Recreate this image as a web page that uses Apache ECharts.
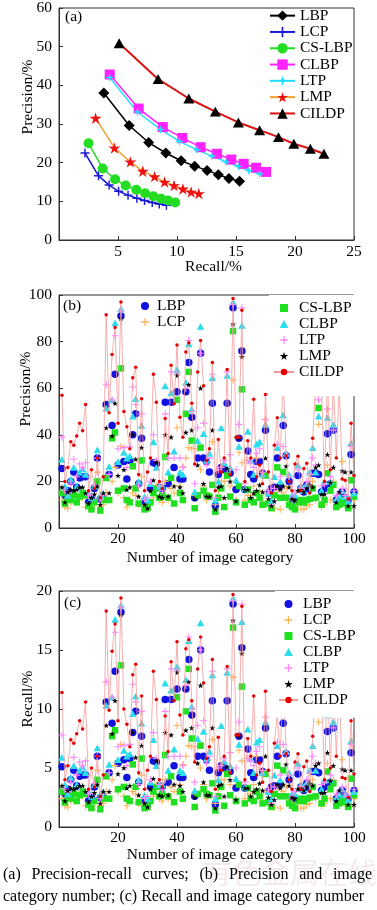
<!DOCTYPE html>
<html>
<head>
<meta charset="utf-8">
<script src="https://cdn.jsdelivr.net/npm/echarts@6/dist/echarts.min.js"></script>
<style>
  html, body { margin: 0; padding: 0; background: #fff; }
  #Charts { width: 377px; height: 910px; }
</style>
</head>
<body>
<div id="Charts"></div>
<script>
// ---- (a) precision-recall curves ----
const prLBP_recall = [3.8, 5.95, 7.6, 9.05, 10.35, 11.5, 12.55, 13.5, 14.4, 15.3]
const prLBP_precision = [38, 29.6, 25.2, 22.5, 20.5, 19.1, 18, 16.9, 15.9, 15.2]
const prLCP_recall = [2.2, 3.35, 4.25, 5.05, 5.85, 6.6, 7.25, 7.9, 8.5, 9.1]
const prLCP_precision = [22.5, 16.6, 14.2, 12.6, 11.6, 10.8, 10.2, 9.7, 9.3, 9.0]
const prCSLBP_recall = [2.5, 3.7, 4.75, 5.65, 6.55, 7.3, 8.0, 8.65, 9.25, 9.85]
const prCSLBP_precision = [25, 18.5, 15.7, 14.1, 13.0, 12.1, 11.3, 10.7, 10.2, 9.7]
const prCLBP_recall = [4.3, 6.75, 8.8, 10.45, 12.0, 13.4, 14.6, 15.65, 16.7, 17.55]
const prCLBP_precision = [42.8, 34, 29.2, 26.4, 24.0, 22.3, 20.8, 19.7, 18.7, 17.6]
const prLTP_recall = [4.3, 6.65, 8.6, 10.2, 11.7, 12.95, 14.15, 15.2, 16.1, 17.0]
const prLTP_precision = [42, 33.1, 28.6, 25.5, 23.3, 21.7, 20.2, 19, 17.9, 17.1]
const prLMP_recall = [3.1, 4.7, 6.05, 7.1, 8.1, 8.95, 9.75, 10.5, 11.2, 11.85]
const prLMP_precision = [31.5, 23.8, 20.2, 17.8, 16.4, 15, 14.1, 13.2, 12.4, 12]
const prCILDP_recall = [5.1, 8.4, 11.0, 13.25, 15.2, 17.0, 18.6, 19.9, 21.3, 22.45]
const prCILDP_precision = [50.9, 41.6, 36.6, 33.2, 30.4, 28.4, 26.6, 24.9, 23.6, 22.3]

// ---- (b) precision per image category (1..100) ----
const imageCategory = Array.from({length: 100}, (_, i) => i + 1)
const precLBP = [25.5, 14, 16, 20, 24, 17.5, 21.5, 22, 22, 11, 12.5, 17, 30, 12.5, 12.5, 53, 23, 44, 66, 27,
  91, 28.5, 21, 29, 40, 49, 19, 38.5, 11.5, 10, 17, 28, 27.5, 17.5, 17, 54, 19, 54, 26, 58.5,
  21, 21, 58.5, 71, 47.5, 13, 30, 75, 30, 28.5, 24, 53.5, 9.5, 23, 26, 25, 53.5, 23.5, 94.5, 16.5,
  38.5, 76, 16.5, 33, 23, 21, 28.5, 28.5, 23.5, 42, 15, 17, 17.5, 30, 18, 44, 31, 20, 12.5, 12,
  22.5, 17, 15.5, 18.5, 17, 23.5, 23.5, 23, 15.5, 17, 40.5, 19, 42, 12, 13, 15.5, 13, 12, 31.5, 15.5]
const precLCP = [12, 9, 8.5, 11, 12, 11, 13, 13, 9, 9, 8, 10, 24, 9, 10, 15, 12, 20, 26, 15,
  35, 13, 9, 12, 15, 14, 10, 22, 10, 8, 11, 13, 18, 12, 11, 20, 12, 17, 15, 43,
  18, 26.5, 30, 34.5, 34, 14, 34, 25, 18, 12, 14, 37, 10, 16, 20, 20, 23, 18, 63.5, 12,
  32.5, 28, 12, 14, 14, 18, 30, 16, 11, 15, 10, 9, 8.5, 16, 8, 15, 17, 12, 10, 9,
  10, 8, 8, 9.5, 10, 20, 12, 44.5, 9, 10, 27, 12, 20, 10, 11, 28.5, 10, 10, 9, 12]
const precCSLBP = [15, 10.5, 13, 12, 14, 11, 13.5, 15, 14, 9.5, 8, 11, 20, 7.5, 12, 21.5, 12, 38.5, 41, 16,
  68.5, 17, 12, 11, 26.5, 17, 10.5, 29, 8, 8.5, 11, 15, 17, 13, 14, 30.5, 13, 21.5, 10.5, 55,
  15, 12, 49, 67, 37.5, 8.5, 14, 34.5, 16, 14, 13.5, 18.5, 7, 13, 17, 9, 22.5, 13.5, 84.5, 11,
  18, 59.5, 10, 16.5, 12, 11, 15, 13, 10, 22.5, 10.5, 8.5, 14, 26, 13, 24, 13, 10, 9, 8,
  11, 12, 11, 12, 12.5, 17, 13, 51.5, 10, 12, 23.5, 16, 18.5, 9, 10, 12, 10.5, 8.5, 20.5, 13.5]
const precCLBP = [29.5, 18, 14, 21, 26, 18, 24, 25.5, 23, 15, 13, 18, 33.5, 14, 15, 51.5, 26.5, 55, 88, 28.5,
  94, 32.5, 30, 31, 48, 55.5, 20, 44, 13.5, 12, 19, 37, 26, 18, 18, 61, 24, 58, 33, 68,
  24, 23, 62.5, 79, 51, 15.5, 37.5, 86.5, 40.5, 29, 32, 64.5, 12, 20, 43, 28, 65.5, 26, 97, 20.5,
  35, 87, 17, 41.5, 29, 23, 36, 37, 23, 44.5, 15, 12, 22, 34.5, 20, 48.5, 32, 23, 14, 14,
  27, 18, 16, 19, 24, 34.5, 24, 48, 16, 20, 47.5, 20, 44.5, 12.5, 14, 16, 13.5, 11.5, 36.5, 15]
const precLTP = [39, 16, 15, 19, 29.5, 22, 27.5, 26, 28, 14, 14, 18.5, 30, 12, 14, 61.5, 23, 55, 82.5, 34,
  93, 34.5, 26, 35, 60.5, 53, 18, 49, 12, 13, 20, 40, 29, 18, 16, 49, 30, 67, 30, 66,
  30, 26, 60, 80.5, 50, 19, 43, 75, 45, 27, 30, 66, 13, 25, 26, 29, 67, 31.5, 96, 25,
  44.5, 94.5, 19, 29, 28, 26, 32, 34, 24, 46.5, 16, 10, 17, 36, 22, 35, 31, 22, 13, 15,
  25, 17, 17, 20, 23, 30, 27, 55, 18, 19, 51, 22, 42, 14, 15, 17, 14, 13, 35, 16]
const precLMP = [17.5, 11, 15.5, 16.5, 16, 16.5, 17.5, 17.5, 15, 10.5, 13, 14.5, 18, 10, 15, 43, 15, 39.5, 53.5, 22.5,
  90, 25, 16.5, 17.5, 40, 29.5, 13.5, 34.5, 10, 8.5, 16, 20.5, 28, 13.5, 13, 40, 13.5, 39, 18, 65.5,
  17.5, 15, 41, 61.5, 42, 12.5, 27, 60, 19, 13.5, 13.5, 42, 8, 17.5, 18, 13, 25.5, 20, 87.5, 11.5,
  38.5, 73.5, 16.5, 16.5, 13, 15, 16, 18.5, 15.5, 30, 12.5, 9.5, 11.5, 18, 16.5, 18, 26.5, 17.5, 12.5, 12,
  16, 16.5, 15.5, 17, 18.5, 17.5, 26, 27, 14.5, 14.5, 31.5, 19.5, 26, 11, 15.5, 24.5, 24, 9.5, 24, 9.5]
const precCILDP = [57, 20, 26, 37, 35.5, 39.5, 45, 41.7, 53, 16, 25, 17, 30, 13, 22, 91.5, 49.5, 74.5, 86, 45,
  97, 50, 43.5, 34, 64.5, 69, 23, 55.5, 16, 24, 30, 66, 54, 20, 17, 47, 32, 69.8, 53.3, 78.5,
  47.5, 39, 75.5, 79.5, 53.5, 27.5, 67, 80.5, 61, 29, 34, 71, 16, 38, 24, 30, 68, 23, 98.5, 39,
  39, 93.5, 20, 37.5, 30, 55.3, 22, 27, 19, 57.3, 24, 15, 35.5, 47.3, 30, 65, 31, 20, 16, 27.5,
  30.8, 16, 25.5, 27.8, 15, 38.5, 62, 65, 60, 20, 65, 25, 64, 30, 62, 21, 20.5, 12.5, 45, 22.5]

// ---- (c) recall per image category (1..100) ----
const recLBP = [5.1, 2.8, 3.2, 4, 4.8, 3.5, 4.3, 4.4, 4.4, 2.2, 2.5, 3.4, 6, 2.5, 2.5, 10.6, 4.6, 8.8, 13.2, 5.4,
  18.2, 5.7, 4.2, 5.8, 8, 9.8, 3.8, 7.7, 2.3, 2, 3.4, 5.6, 5.5, 3.5, 3.4, 10.8, 3.8, 10.8, 5.2, 11.7,
  4.2, 4.2, 11.7, 14.2, 9.5, 2.6, 6, 15, 6, 5.7, 4.8, 10.7, 1.9, 4.6, 5.2, 5, 10.7, 4.7, 18.9, 3.3,
  7.7, 15.2, 3.3, 6.6, 4.6, 4.2, 5.7, 5.7, 4.7, 8.4, 3, 3.4, 3.5, 6, 3.6, 8.8, 6.2, 4, 2.5, 2.4,
  4.5, 3.4, 3.1, 3.7, 3.4, 4.7, 4.7, 4.6, 3.1, 3.4, 8.1, 3.8, 8.4, 2.4, 2.6, 3.1, 2.6, 2.4, 6.3, 3.1]
const recLCP = [2.4, 1.8, 1.7, 2.2, 2.4, 2.2, 2.6, 2.6, 1.8, 1.8, 1.6, 2, 4.8, 1.8, 2, 3, 2.4, 4, 5.2, 3,
  7, 2.6, 1.8, 2.4, 3, 2.8, 2, 4.4, 2, 1.6, 2.2, 2.6, 3.6, 2.4, 2.2, 4, 2.4, 3.4, 3, 8.6,
  3.6, 5.3, 6, 6.9, 6.8, 2.8, 6.8, 5, 3.6, 2.4, 2.8, 7.4, 2, 3.2, 4, 4, 4.6, 3.6, 12.7, 2.4,
  6.5, 5.6, 2.4, 2.8, 2.8, 3.6, 6, 3.2, 2.2, 3, 2, 1.8, 1.7, 3.2, 1.6, 3, 3.4, 2.4, 2, 1.8,
  2, 1.6, 1.6, 1.9, 2, 4, 2.4, 8.9, 1.8, 2, 5.4, 2.4, 4, 2, 2.2, 5.7, 2, 2, 1.8, 2.4]
const recCSLBP = [3, 2.1, 2.6, 2.4, 2.8, 2.2, 2.7, 3, 2.8, 1.9, 1.6, 2.2, 4, 1.5, 2.4, 4.3, 2.4, 7.7, 8.2, 3.2,
  13.7, 3.4, 2.4, 2.2, 5.3, 3.4, 2.1, 5.8, 1.6, 1.7, 2.2, 3, 3.4, 2.6, 2.8, 6.1, 2.6, 4.3, 2.1, 11,
  3, 2.4, 9.8, 13.4, 7.5, 1.7, 2.8, 6.9, 3.2, 2.8, 2.7, 3.7, 1.4, 2.6, 3.4, 1.8, 4.5, 2.7, 16.9, 2.2,
  3.6, 11.9, 2, 3.3, 2.4, 2.2, 3, 2.6, 2, 4.5, 2.1, 1.7, 2.8, 5.2, 2.6, 4.8, 2.6, 2, 1.8, 1.6,
  2.2, 2.4, 2.2, 2.4, 2.5, 3.4, 2.6, 10.3, 2, 2.4, 4.7, 3.2, 3.7, 1.8, 2, 2.4, 2.1, 1.7, 4.1, 2.7]
const recCLBP = [5.9, 3.6, 2.8, 4.2, 5.2, 3.6, 4.8, 5.1, 4.6, 3, 2.6, 3.6, 6.7, 2.8, 3, 10.3, 5.3, 11, 17.6, 5.7,
  18.8, 6.5, 6, 6.2, 9.6, 11.1, 4, 8.8, 2.7, 2.4, 3.8, 7.4, 5.2, 3.6, 3.6, 12.2, 4.8, 11.6, 6.6, 13.6,
  4.8, 4.6, 12.5, 15.8, 10.2, 3.1, 7.5, 17.3, 8.1, 5.8, 6.4, 12.9, 2.4, 4, 8.6, 5.6, 13.1, 5.2, 19.4, 4.1,
  7, 17.4, 3.4, 8.3, 5.8, 4.6, 7.2, 7.4, 4.6, 8.9, 3, 2.4, 4.4, 6.9, 4, 9.7, 6.4, 4.6, 2.8, 2.8,
  5.4, 3.6, 3.2, 3.8, 4.8, 6.9, 4.8, 9.6, 3.2, 4, 9.5, 4, 8.9, 2.5, 2.8, 3.2, 2.7, 2.3, 7.3, 3]
const recLTP = [7.8, 3.2, 3, 3.8, 5.9, 4.4, 5.5, 5.2, 5.6, 2.8, 2.8, 3.7, 6, 2.4, 2.8, 12.3, 4.6, 11, 16.5, 6.8,
  18.6, 6.9, 5.2, 7, 12.1, 10.6, 3.6, 9.8, 2.4, 2.6, 4, 8, 5.8, 3.6, 3.2, 9.8, 6, 13.4, 6, 13.2,
  6, 5.2, 12, 16.1, 10, 3.8, 8.6, 15, 9, 5.4, 6, 13.2, 2.6, 5, 5.2, 5.8, 13.4, 6.3, 19.2, 5,
  8.9, 18.9, 3.8, 5.8, 5.6, 5.2, 6.4, 6.8, 4.8, 9.3, 3.2, 2, 3.4, 7.2, 4.4, 7, 6.2, 4.4, 2.6, 3,
  5, 3.4, 3.4, 4, 4.6, 6, 5.4, 11, 3.6, 3.8, 10.2, 4.4, 8.4, 2.8, 3, 3.4, 2.8, 2.6, 7, 3.2]
const recLMP = [3.5, 2.2, 3.1, 3.3, 3.2, 3.3, 3.5, 3.5, 3, 2.1, 2.6, 2.9, 3.6, 2, 3, 8.6, 3, 7.9, 10.7, 4.5,
  18, 5, 3.3, 3.5, 8, 5.9, 2.7, 6.9, 2, 1.7, 3.2, 4.1, 5.6, 2.7, 2.6, 8, 2.7, 7.8, 3.6, 13.1,
  3.5, 3, 8.2, 12.3, 8.4, 2.5, 5.4, 12, 3.8, 2.7, 2.7, 8.4, 1.6, 3.5, 3.6, 2.6, 5.1, 4, 17.5, 2.3,
  7.7, 14.7, 3.3, 3.3, 2.6, 3, 3.2, 3.7, 3.1, 6, 2.5, 1.9, 2.3, 3.6, 3.3, 3.6, 5.3, 3.5, 2.5, 2.4,
  3.2, 3.3, 3.1, 3.4, 3.7, 3.5, 5.2, 5.4, 2.9, 2.9, 6.3, 3.9, 5.2, 2.2, 3.1, 4.9, 4.8, 1.9, 4.8, 1.9]
const recCILDP = [11.4, 4, 5.2, 7.4, 7.1, 7.9, 9, 8.3, 10.6, 3.2, 5, 3.4, 6, 2.6, 4.4, 18.3, 9.9, 14.9, 17.2, 9,
  19.4, 10, 8.7, 6.8, 12.9, 13.8, 4.6, 11.1, 3.2, 4.8, 6, 13.2, 10.8, 4, 3.4, 9.4, 6.4, 14, 10.7, 15.7,
  9.5, 7.8, 15.1, 15.9, 10.7, 5.5, 13.4, 16.1, 12.2, 5.8, 6.8, 14.2, 3.2, 7.6, 4.8, 6, 13.6, 4.6, 19.7, 7.8,
  7.8, 18.7, 4, 7.5, 6, 11.1, 4.4, 5.4, 3.8, 11.5, 4.8, 3, 7.1, 9.5, 6, 13, 6.2, 4, 3.2, 5.5,
  6.2, 3.2, 5.1, 5.6, 3, 7.7, 12.4, 13, 12, 4, 13, 5, 12.8, 6, 12.4, 4.2, 4.1, 2.5, 9, 4.5]

const FONT = 'Liberation Serif'
const STAR5 = 'path://M50,0L61.2,34.6L97.6,34.5L68.1,55.9L79.4,90.5L50,69L20.6,90.5L31.9,55.9L2.4,34.5L38.8,34.6Z'
const STAR4 = 'path://M50,0L62,38L100,50L62,62L50,100L38,62L0,50L38,38Z'
const PLUS = 'path://M42,0H58V42H100V58H58V100H42V58H0V42H42Z'
const SQUARE = 'path://M0,0H10V10H0Z'
const TRI = 'path://M50,0L100,90H0Z'

const pairs = (xs, ys) => ys.map((v, i) => [xs[i], v])

const axisBase = (gridIndex, min, max, interval, labelMargin, showMinLabel) => ({
  type: 'value', gridIndex, min, max, interval,
  axisLine: {show: true, lineStyle: {color: '#333', width: 1}},
  axisTick: {show: true, inside: true, length: 4, lineStyle: {color: '#333'}},
  axisLabel: {color: '#000', fontFamily: FONT, fontSize: 15.5, margin: labelMargin, showMinLabel},
  splitLine: {show: false}
})

const prLine = (name, xs, ys, lineColor, symbol, symbolSize, markColor, width) => ({
  name, type: 'line', xAxisIndex: 0, yAxisIndex: 0,
  data: pairs(xs, ys),
  symbol, symbolSize, symbolKeepAspect: true,
  lineStyle: {color: lineColor, width: width || 1.5},
  itemStyle: {color: markColor},
  z: 3
})

// scatter for panels (b), (c); idx 1 or 2
const dots = (name, idx, vals, symbol, size, color) => ({
  name, type: 'scatter', xAxisIndex: idx, yAxisIndex: idx,
  data: pairs(imageCategory, vals),
  symbol, symbolSize: size, symbolKeepAspect: true,
  itemStyle: {color, opacity: 1}
})
const cildpLine = (name, idx, vals) => ({
  name, type: 'line', xAxisIndex: idx, yAxisIndex: idx,
  data: pairs(imageCategory, vals),
  symbol: 'circle', symbolSize: 3.5, showSymbol: true,
  lineStyle: {color: '#f29a9a', width: 0.8},
  itemStyle: {color: '#e60000'}
})

const COL = {
  LBP: '#1212e0', LCP: '#ffb45e', CSLBP: '#1fe01f', CLBP: '#2adcec', LTP: '#ff88ff', LMP: '#000'
}

const sb = ' ', sc = '  ' // name suffixes keep panels' legends apart

const chart = echarts.init(document.getElementById('Charts'), null, {renderer: 'canvas'})

const legendText = (lh) => ({fontFamily: FONT, fontSize: 15.5, color: '#000', lineHeight: lh})

const option = {
  animation: false,
  backgroundColor: '#fff',
  grid: [
    {left: 59, top: 6, width: 295, height: 234, show: true, borderColor: '#333', borderWidth: 1},
    {left: 59, top: 295, width: 295, height: 233, show: true, borderColor: '#333', borderWidth: 1},
    {left: 59, top: 591, width: 295, height: 236, show: true, borderColor: '#333', borderWidth: 1}
  ],
  xAxis: [
    axisBase(0, 0, 25, 5, 4, false),
    axisBase(1, 0, 100, 20, 3, false),
    axisBase(2, 0, 100, 20, 3, false)
  ],
  yAxis: [
    axisBase(0, 0, 60, 10, 7, true),
    axisBase(1, 0, 100, 20, 7, true),
    axisBase(2, 0, 20, 5, 7, true)
  ],
  legend: [
    {
      data: ['LBP', 'LCP', 'CS-LBP', 'CLBP', 'LTP', 'LMP', 'CILDP'],
      orient: 'vertical', left: 269, top: 7.5, padding: 0,
      itemWidth: 25, itemHeight: 13, itemGap: 0,
      selectedMode: false, textStyle: legendText(16.3),
      formatter: n => n.trim()
    },
    {
      data: ['LBP' + sb, 'LCP' + sb],
      orient: 'vertical', left: 141, top: 298, padding: 0,
      itemWidth: 14, itemHeight: 8, itemGap: 0,
      selectedMode: false, textStyle: legendText(14),
      formatter: n => n.trim()
    },
    {
      data: ['CS-LBP' + sb, 'CLBP' + sb, 'LTP' + sb, 'LMP' + sb, 'CILDP' + sb],
      orient: 'vertical', left: 269, top: 295, padding: [5, 4, 16, 4],
      itemWidth: 20, itemHeight: 8, itemGap: 0, backgroundColor: '#fff',
      selectedMode: false, textStyle: legendText(15.6),
      formatter: n => n.trim()
    },
    {
      data: ['LBP' + sc, 'LCP' + sc, 'CS-LBP' + sc, 'CLBP' + sc, 'LTP' + sc, 'LMP' + sc, 'CILDP' + sc],
      orient: 'vertical', left: 275, top: 591, padding: [5, 3, 9.6, 3],
      itemWidth: 19, itemHeight: 8, itemGap: 0, backgroundColor: '#fff',
      selectedMode: false, textStyle: legendText(15.45),
      formatter: n => n.trim()
    }
  ],
  graphic: [
    // faint source watermark behind caption
    {type: 'text', x: 290, y: 873, z: 0, style: {text: '有色金属在线', fontFamily: 'Noto Sans CJK SC', fontSize: 29, fill: '#f5eaea', align: 'center', verticalAlign: 'middle'}},
    {type: 'text', x: 65, y: 16.7, style: {text: '(a)', fontFamily: FONT, fontSize: 15.5, fill: '#000', verticalAlign: 'middle'}},
    {type: 'text', x: 63, y: 305.7, style: {text: '(b)', fontFamily: FONT, fontSize: 15.5, fill: '#000', verticalAlign: 'middle'}},
    {type: 'text', x: 64, y: 602.7, style: {text: '(c)', fontFamily: FONT, fontSize: 15.5, fill: '#000', verticalAlign: 'middle'}},
    {type: 'text', x: 28, y: 97, rotation: Math.PI / 2, style: {text: 'Precision/%', fontFamily: FONT, fontSize: 15.5, fill: '#000', align: 'center', verticalAlign: 'middle'}},
    {type: 'text', x: 26, y: 389, rotation: Math.PI / 2, style: {text: 'Precision/%', fontFamily: FONT, fontSize: 15.5, fill: '#000', align: 'center', verticalAlign: 'middle'}},
    {type: 'text', x: 28, y: 699, rotation: Math.PI / 2, style: {text: 'Recall/%', fontFamily: FONT, fontSize: 15.5, fill: '#000', align: 'center', verticalAlign: 'middle'}},
    {type: 'text', x: 213.5, y: 267, style: {text: 'Recall/%', fontFamily: FONT, fontSize: 15.5, fill: '#000', align: 'center', verticalAlign: 'middle'}},
    {type: 'text', x: 210, y: 558, style: {text: 'Number of image category', fontFamily: FONT, fontSize: 15.5, fill: '#000', align: 'center', verticalAlign: 'middle'}},
    {type: 'text', x: 210, y: 855, style: {text: 'Number of image category', fontFamily: FONT, fontSize: 15.5, fill: '#000', align: 'center', verticalAlign: 'middle'}},
    // caption, first line spread to full width
    {type: 'text', x: 3, y: 875, style: {text: '(a)', fontFamily: FONT, fontSize: 16, fill: '#000', verticalAlign: 'middle'}},
    {type: 'text', x: 31.5, y: 875, style: {text: 'Precision-recall', fontFamily: FONT, fontSize: 16, fill: '#000', verticalAlign: 'middle'}},
    {type: 'text', x: 142.6, y: 875, style: {text: 'curves;', fontFamily: FONT, fontSize: 16, fill: '#000', verticalAlign: 'middle'}},
    {type: 'text', x: 199.5, y: 875, style: {text: '(b)', fontFamily: FONT, fontSize: 16, fill: '#000', verticalAlign: 'middle'}},
    {type: 'text', x: 229, y: 875, style: {text: 'Precision', fontFamily: FONT, fontSize: 16, fill: '#000', verticalAlign: 'middle'}},
    {type: 'text', x: 299.2, y: 875, style: {text: 'and', fontFamily: FONT, fontSize: 16, fill: '#000', verticalAlign: 'middle'}},
    {type: 'text', x: 372, y: 875, style: {text: 'image', fontFamily: FONT, fontSize: 16, fill: '#000', align: 'right', verticalAlign: 'middle'}},
    {type: 'text', x: 3, y: 896.7, style: {text: 'category number; (c) Recall and image category number', fontFamily: FONT, fontSize: 16, fill: '#000', verticalAlign: 'middle'}}
  ],
  series: [
    prLine('LBP', prLBP_recall, prLBP_precision, '#000', 'diamond', 11, '#000'),
    prLine('LCP', prLCP_recall, prLCP_precision, '#1a1ad6', PLUS, 9, '#1a1ad6'),
    prLine('CS-LBP', prCSLBP_recall, prCSLBP_precision, '#22dd22', 'circle', 10, '#22dd22'),
    prLine('CLBP', prCLBP_recall, prCLBP_precision, '#ff22ff', SQUARE, 10, '#ff22ff'),
    prLine('LTP', prLTP_recall, prLTP_precision, '#22ddff', STAR4, 9, '#22ddff'),
    prLine('LMP', prLMP_recall, prLMP_precision, '#f0a030', STAR5, 12, '#ee1111'),
    prLine('CILDP', prCILDP_recall, prCILDP_precision, '#dd1111', TRI, 11, '#000', 2),

    dots('LBP' + sb, 1, precLBP, 'circle', 7.5, COL.LBP),
    dots('LCP' + sb, 1, precLCP, PLUS, 7, COL.LCP),
    dots('CS-LBP' + sb, 1, precCSLBP, SQUARE, 6.5, COL.CSLBP),
    dots('CLBP' + sb, 1, precCLBP, TRI, 7.5, COL.CLBP),
    dots('LTP' + sb, 1, precLTP, PLUS, 7, COL.LTP),
    dots('LMP' + sb, 1, precLMP, STAR5, 6, COL.LMP),
    cildpLine('CILDP' + sb, 1, precCILDP),

    dots('LBP' + sc, 2, recLBP, 'circle', 7.5, COL.LBP),
    dots('LCP' + sc, 2, recLCP, PLUS, 7, COL.LCP),
    dots('CS-LBP' + sc, 2, recCSLBP, SQUARE, 6.5, COL.CSLBP),
    dots('CLBP' + sc, 2, recCLBP, TRI, 7.5, COL.CLBP),
    dots('LTP' + sc, 2, recLTP, PLUS, 7, COL.LTP),
    dots('LMP' + sc, 2, recLMP, STAR5, 6, COL.LMP),
    cildpLine('CILDP' + sc, 2, recCILDP)
  ]
}

chart.setOption(option)
</script>
</body>
</html>
